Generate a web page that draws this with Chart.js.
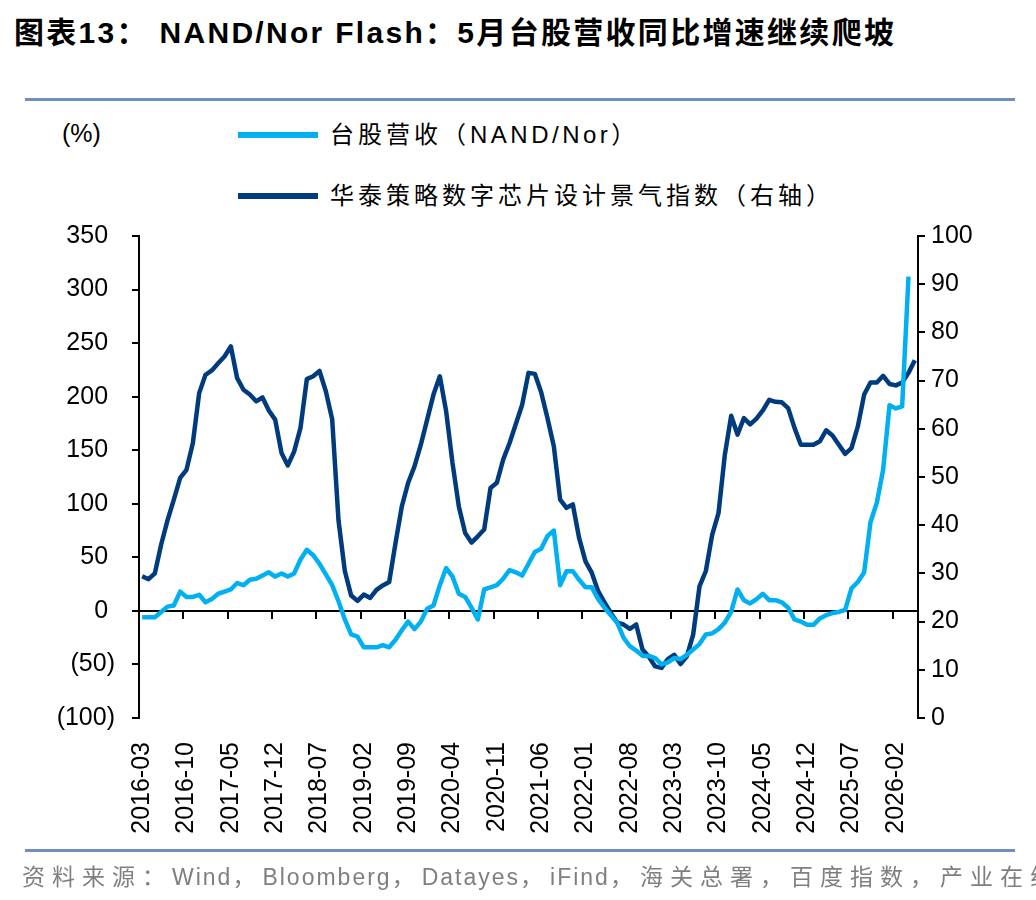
<!DOCTYPE html>
<html>
<head>
<meta charset="utf-8">
<script src="https://cdn.jsdelivr.net/npm/chart.js@4"></script>
<style>
  html, body { margin: 0; padding: 0; background: #fff; }
  body { width: 1036px; height: 900px; position: relative; overflow: hidden; font-family: "Liberation Sans", "Noto Sans CJK SC", sans-serif; }
  #chart { position: absolute; left: 0; top: 0; }
  .title { position: absolute; left: 14px; top: 8px; font-size: 30px; font-weight: bold; white-space: nowrap; color: #000; letter-spacing: 2.3px; }
  .rule { position: absolute; left: 25px; width: 990px; height: 3px; background: #6f8fbf; }
  .unit { position: absolute; left: 62px; top: 119px; font-size: 25px; color: #000; }
  .legend { position: absolute; left: 238px; font-size: 24px; white-space: nowrap; color: #000; }
  .legend i { display: inline-block; width: 80px; height: 6px; vertical-align: middle; margin-right: 12px; position: relative; top: -2px; }
  .legend .cn { letter-spacing: 4px; }
  .legend .en { letter-spacing: 3.5px; }
  .source { position: absolute; left: 22px; top: 858px; font-size: 23px; color: #7f7f7f; white-space: nowrap; letter-spacing: 2px; }
  .source .cn { letter-spacing: 7px; }
</style>
</head>
<body>
<div class="title">图表13： NAND/Nor Flash：5月台股营收同比增速继续爬坡</div>
<div class="rule" style="top:98px"></div>
<div class="unit">(%)</div>
<div class="legend" style="top:115px"><i style="background:#00b0f0"></i><span class="cn">台股营收（</span><span class="en">NAND/Nor</span><span class="cn">）</span></div>
<div class="legend" style="top:176px"><i style="background:#003b7e"></i><span class="cn">华泰策略数字芯片设计景气指数（右轴）</span></div>
<canvas id="chart" width="1036" height="900"></canvas>
<div class="rule" style="top:849px"></div>
<div class="source"><span class="cn">资料来源：</span>Wind<span class="cn">，</span>Bloomberg<span class="cn">，</span>Datayes<span class="cn">，</span>iFind<span class="cn">，海关总署，百度指数，产业在线，华泰研究</span></div>

<script>
// months 2016-03 .. 2026-05, a label every 7 months
const firstYear = 2016, firstMonth = 3, monthCount = 123;
const labelEvery = 7;
const months = [];
for (let i = 0; i < monthCount; i++) {
    const m = firstMonth - 1 + i;
    months.push((firstYear + Math.floor(m / 12)) + '-' + String(m % 12 + 1).padStart(2, '0'));
}

// 台股营收（NAND/Nor）同比, %
const revenueYoy = [
    -6, -6, -6, -1, 4, 5, 18, 13, 13, 15,
    8, 11, 16, 18, 20, 26, 24, 29, 30, 33,
    36, 32, 35, 32, 35, 48, 57, 52, 44, 34,
    24, 9, -8, -22, -24, -34, -34, -34, -32, -34,
    -27, -18, -10, -17, -10, 2, 5, 24, 40, 32,
    16, 13, 3, -8, 20, 22, 24, 30, 38, 36,
    33, 44, 55, 58, 70, 75, 24, 37, 37, 29,
    22, 22, 11, 3, -4, -11, -25, -33, -37, -42,
    -42, -44, -50, -48, -44, -45, -41, -36, -31, -22,
    -21, -17, -11, -1, 20, 10, 7, 11, 16, 10,
    10, 8, 3, -8, -10, -13, -13, -7, -4, -2,
    -1, 1, 21, 27, 36, 83, 101, 132, 192, 189,
    191, 312, null
];

// 华泰策略数字芯片设计景气指数（右轴）
const designIndex = [
    29.4, 28.8, 30, 36, 41, 45.3, 49.8, 51.5, 57, 67.4,
    71.2, 72.1, 73.6, 75, 77.1, 70.5, 68.1, 67.1, 65.7, 66.5,
    63.8, 61.9, 55, 52.4, 55.3, 60.2, 70.3, 70.9, 72, 67.8,
    62, 41, 30.5, 25.4, 24.3, 25.6, 24.9, 26.6, 27.5, 28.2,
    36.3, 43.9, 48.8, 52.2, 56.7, 61.9, 67.1, 70.9, 63.6, 52.9,
    43.9, 38.4, 36.4, 37.7, 39.1, 47.7, 48.8, 53.6, 57, 61,
    65, 71.6, 71.4, 67.6, 62.2, 56.4, 45.3, 43.6, 44.3, 37.3,
    32.5, 30.1, 26.3, 24, 21.8, 19.8, 19.4, 18.5, 19.4, 14.2,
    12.7, 10.7, 10.4, 12.2, 13.1, 11.2, 12.8, 17.3, 27.3, 30.5,
    38, 42.5, 54.6, 62.7, 58.8, 62.2, 60.9, 62.1, 63.8, 66,
    65.6, 65.5, 64.3, 60.2, 56.7, 56.7, 56.7, 57.4, 59.7, 58.6,
    56.7, 54.8, 56, 60.5, 67.1, 69.6, 69.6, 71, 69.3, 69,
    69.6, 71.6, 74.2
];

const tickFont = { family: '"Liberation Sans", Arial, sans-serif', size: 25 };

// axis through zero with tick marks between every 7th category
const zeroAxis = {
    id: 'zeroAxis',
    beforeDatasetsDraw(chart) {
        const { ctx, chartArea, scales: { x, y } } = chart;
        const y0 = y.getPixelForValue(0);
        const step = x.getPixelForValue(1) - x.getPixelForValue(0);
        ctx.save();
        ctx.strokeStyle = '#000';
        ctx.lineWidth = 2;
        ctx.beginPath();
        ctx.moveTo(chartArea.left, y0);
        ctx.lineTo(chartArea.right, y0);
        for (let i = labelEvery; i < months.length; i += labelEvery) {
            const px = Math.round(x.getPixelForValue(i) - step / 2);
            ctx.moveTo(px, y0);
            ctx.lineTo(px, y0 + 8);
        }
        ctx.stroke();
        ctx.restore();
    }
};

new Chart(document.getElementById('chart'), {
    type: 'line',
    data: {
        labels: months,
        datasets: [{
            label: '台股营收（NAND/Nor）',
            data: revenueYoy,
            yAxisID: 'y',
            borderColor: '#00b0f0',
            borderWidth: 4.5,
            borderJoinStyle: 'round',
            pointRadius: 0,
            tension: 0
        }, {
            label: '华泰策略数字芯片设计景气指数（右轴）',
            data: designIndex,
            yAxisID: 'y1',
            borderColor: '#003b7e',
            borderWidth: 4.5,
            borderJoinStyle: 'round',
            pointRadius: 0,
            tension: 0
        }]
    },
    options: {
        responsive: false,
        animation: false,
        layout: { padding: { top: 236, bottom: 52, left: 0, right: 0 } },
        plugins: { legend: { display: false }, tooltip: { enabled: false } },
        scales: {
            x: {
                offset: true,
                grid: { display: false },
                border: { display: false },
                ticks: {
                    autoSkip: false,
                    maxRotation: 90,
                    minRotation: 90,
                    padding: 16,
                    color: '#000',
                    font: tickFont,
                    callback: (v, i) => i % labelEvery === 0 ? months[i] : ''
                },
                afterFit: s => { s.height = 130; }
            },
            y: {
                position: 'left',
                min: -100,
                max: 350,
                ticks: {
                    stepSize: 50,
                    color: '#000',
                    font: tickFont,
                    padding: 17,
                    callback: v => v < 0 ? '(' + (-v) + ')' : v + ' '
                },
                grid: { drawOnChartArea: false, color: '#000', lineWidth: 2, tickLength: 7 },
                border: { color: '#000', width: 2 },
                afterFit: s => { s.width = 139; }
            },
            y1: {
                position: 'right',
                min: 0,
                max: 100,
                ticks: { stepSize: 10, color: '#000', font: tickFont, padding: 6 },
                grid: { drawOnChartArea: false, color: '#000', lineWidth: 2, tickLength: 7 },
                border: { color: '#000', width: 2 },
                afterFit: s => { s.width = 118; }
            }
        }
    },
    plugins: [zeroAxis]
});
</script>
</body>
</html>
